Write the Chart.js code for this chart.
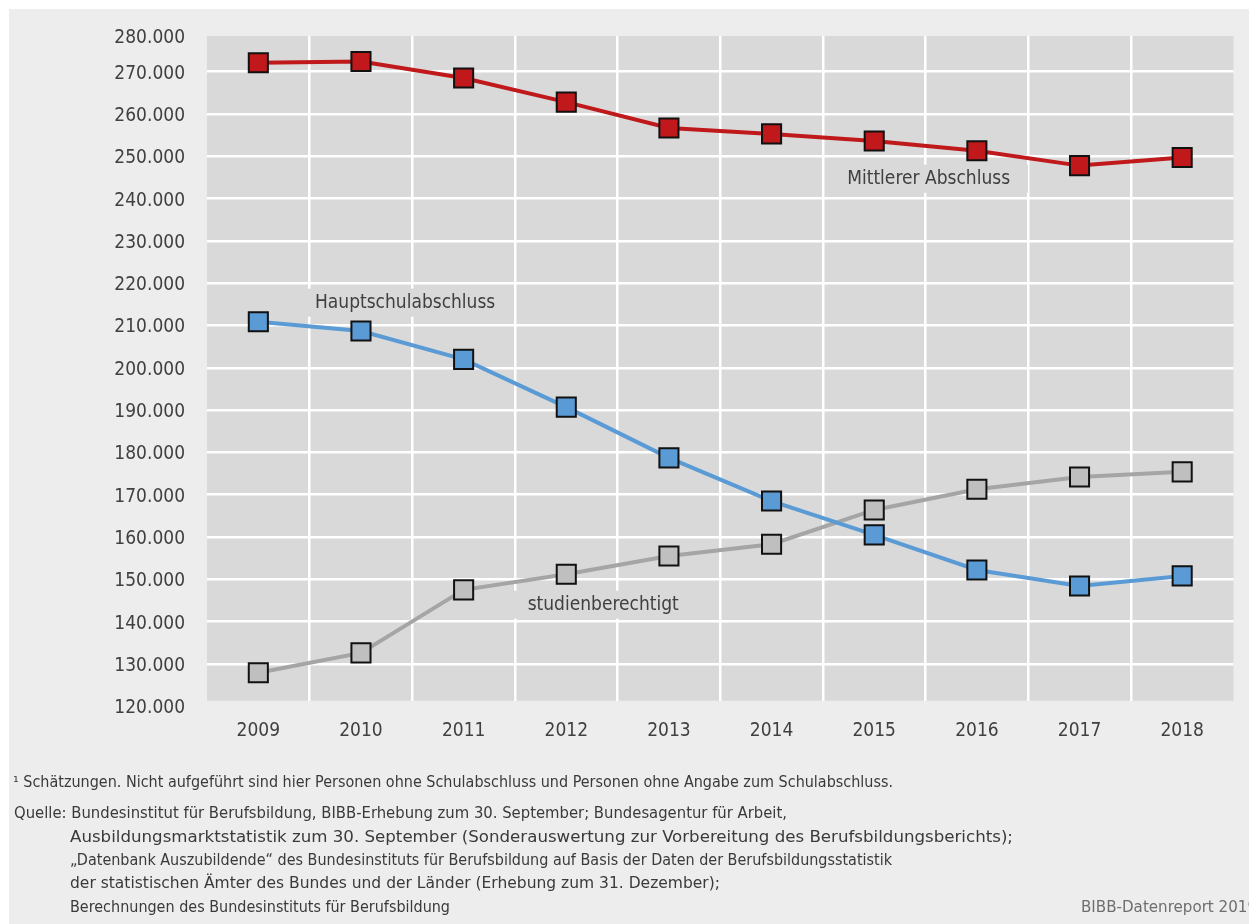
<!DOCTYPE html>
<html>
<head>
<meta charset="utf-8">
<script src="https://cdn.jsdelivr.net/npm/chart.js@4.4.1/dist/chart.umd.min.js"></script>
<style>
  body { margin: 0; background: #fff; }
  #wrap { position: absolute; left: 0; top: 0; width: 1249px; height: 924px; overflow: hidden; }
  #panel { position: absolute; left: 9px; top: 9px; width: 1240px; height: 915px; background: #ededed; }
  #chart { position: absolute; left: 0; top: 0; }
  .note { position: absolute; white-space: nowrap; color: #3a3a3a; font-family: 'DejaVu Sans Condensed', 'Liberation Sans Narrow', 'DejaVu Sans', sans-serif; font-size: 15.5px; line-height: 20px; transform-origin: 0 50%; }
</style>
</head>
<body>
<div id="wrap">
  <div id="panel"></div>
  <canvas id="chart" width="1249" height="924"></canvas>
  <div class="note" data-w="880" style="left:13px; top:772px;">¹ Schätzungen. Nicht aufgeführt sind hier Personen ohne Schulabschluss und Personen ohne Angabe zum Schulabschluss.</div>
  <div class="note" data-w="773" style="left:14px; top:803px;">Quelle: Bundesinstitut für Berufsbildung, BIBB-Erhebung zum 30. September; Bundesagentur für Arbeit,</div>
  <div class="note" data-w="943" style="left:70px; top:827px;">Ausbildungsmarktstatistik zum 30. September (Sonderauswertung zur Vorbereitung des Berufsbildungsberichts);</div>
  <div class="note" data-w="822" style="left:70px; top:850px;">„Datenbank Auszubildende“ des Bundesinstituts für Berufsbildung auf Basis der Daten der Berufsbildungsstatistik</div>
  <div class="note" data-w="650" style="left:70px; top:873px;">der statistischen Ämter des Bundes und der Länder (Erhebung zum 31. Dezember);</div>
  <div class="note" data-w="380" style="left:70px; top:897px;">Berechnungen des Bundesinstituts für Berufsbildung</div>
  <div class="note" data-w="176" style="left:1081px; top:897px; color:#6e6e6e;">BIBB-Datenreport 2019</div>
</div>
<script>
// values (persons)
const years = ['2009', '2010', '2011', '2012', '2013', '2014', '2015', '2016', '2017', '2018'];
const mittlerer = [272100, 272400, 268500, 262800, 256700, 255300, 253600, 251300, 247800, 249700];
const hauptschul = [210900, 208700, 202000, 190700, 178700, 168500, 160500, 152200, 148400, 150800];
const studien = [127900, 132600, 147500, 151200, 155500, 158300, 166400, 171300, 174200, 175400];
const yTicks = [120000, 130000, 140000, 150000, 160000, 170000, 180000, 190000, 200000,
                210000, 220000, 230000, 240000, 250000, 260000, 270000, 280000];

const FONT = "'DejaVu Sans Condensed', 'Liberation Sans Narrow', 'DejaVu Sans', sans-serif";
const TEXT = '#404040';

// series labels, placed in data units (category index, value)
const seriesLabels = [
    { text: 'Mittlerer Abschluss', x: 6.53, y: 244700 },
    { text: 'Hauptschulabschluss', x: 1.43, y: 215400 },
    { text: 'studienberechtigt', x: 3.36, y: 144000 }
];

const fmt = v => Math.round(v / 1000) + '.000';

// stretch footnote lines to the widths of the original
document.querySelectorAll('.note').forEach(el => {
    const w = el.getBoundingClientRect().width;
    el.style.transform = 'scaleX(' + (el.dataset.w / w) + ')';
});

function series(data, line, fill) {
    return {
        data: data,
        borderColor: line,
        borderWidth: 4,
        backgroundColor: fill,
        pointStyle: 'rect',
        pointRadius: 13.5,
        pointBorderWidth: 2,
        pointBorderColor: '#111',
        pointBackgroundColor: fill,
        tension: 0
    };
}

const chartDeco = {
    id: 'chartDeco',
    beforeDraw(chart) {
        const { ctx, chartArea: a } = chart;
        ctx.save();
        ctx.fillStyle = '#d9d9d9';
        ctx.fillRect(a.left, a.top, a.right - a.left, a.bottom - a.top);
        ctx.restore();
    },
    beforeDatasetsDraw(chart) {
        const { ctx, scales } = chart;
        ctx.save();
        ctx.font = '19px ' + FONT;
        ctx.textAlign = 'center';
        ctx.textBaseline = 'middle';
        seriesLabels.forEach(l => {
            const px = scales.x.getPixelForValue(l.x);
            const py = scales.y.getPixelForValue(l.y);
            const w = ctx.measureText(l.text).width + 36;
            ctx.fillStyle = '#d9d9d9';
            ctx.fillRect(px - w / 2, py - 14, w, 28);
            ctx.fillStyle = TEXT;
            ctx.fillText(l.text, px, py);
        });
        ctx.restore();
    },
    afterDraw(chart) {
        // y labels: the top one sits on the clipped plot edge
        const { ctx, chartArea: a, scales } = chart;
        ctx.save();
        ctx.font = '19px ' + FONT;
        ctx.fillStyle = TEXT;
        ctx.textAlign = 'right';
        ctx.textBaseline = 'middle';
        yTicks.forEach(v => {
            const py = Math.max(scales.y.getPixelForValue(v), a.top) + 2;
            ctx.fillText(fmt(v), 185, py);
        });
        ctx.restore();
    }
};

const ctx = document.getElementById('chart').getContext('2d');

new Chart(ctx, {
    type: 'line',
    data: {
        labels: years,
        datasets: [
            series(mittlerer, '#c0191c', '#c0181b'),
            series(hauptschul, '#5b9bd5', '#5b9bd5'),
            series(studien, '#a5a5a5', '#bfbfbf')
        ]
    },
    options: {
        responsive: false,
        devicePixelRatio: 1,
        animation: false,
        layout: { padding: { top: 36, right: 13, left: 0, bottom: 0 } },
        plugins: {
            legend: { display: false },
            tooltip: { enabled: false }
        },
        scales: {
            x: {
                offset: true,
                border: { display: false },
                grid: {
                    offset: true,
                    drawTicks: false,
                    lineWidth: 2.5,
                    color: c => (c.type === 'tick' && c.index > 0) ? '#ffffff' : 'rgba(0,0,0,0)'
                },
                ticks: { color: TEXT, font: { family: FONT, size: 19 }, padding: 19, maxRotation: 0 },
                afterFit: s => { s.height = 924 - 700.7; }
            },
            y: {
                min: 121300,
                max: 278440,
                border: { display: false },
                grid: { drawTicks: false, lineWidth: 2.5, color: '#ffffff' },
                ticks: { display: false },
                afterBuildTicks: s => {
                    s.ticks = yTicks.filter(v => v > s.min && v < s.max).map(v => ({ value: v }));
                },
                afterFit: s => { s.width = 207; }
            }
        }
    },
    plugins: [chartDeco]
});
</script>
</body>
</html>
